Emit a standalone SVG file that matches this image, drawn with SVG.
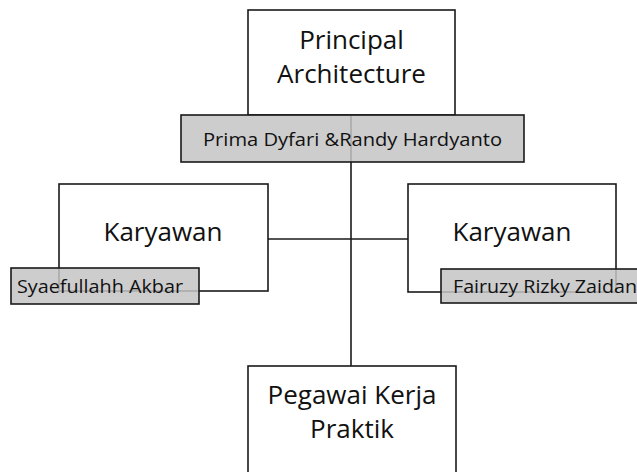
<svg xmlns="http://www.w3.org/2000/svg" width="637" height="472" viewBox="0 0 637 472">
<style>
.box{fill:#fff;stroke:#1a1a1a;stroke-width:1.6}
.lbl{fill:#c4c4c4;fill-opacity:0.85;stroke:#1a1a1a;stroke-width:1.6}
.conn{stroke:#1a1a1a;stroke-width:1.6;fill:none}
.t{font-family:"Open Sans","Noto Sans",sans-serif;fill:#111;text-anchor:middle}
.big{font-size:26px}
.small{font-size:19px}
.st{text-anchor:start}
</style>
<rect width="637" height="472" fill="#fff"/>
<g id="connectors">
<line class="conn" x1="351" y1="115" x2="351" y2="366"/>
<line class="conn" x1="268" y1="239" x2="408" y2="239"/>
</g>
<g id="principal">
<rect class="box" x="248" y="10" width="207" height="105"/>
<text class="t big" x="351.5" y="49">Principal</text>
<text class="t big" x="351.5" y="83">Architecture</text>
</g>
<g id="principal-name">
<rect class="lbl" x="181" y="115" width="343" height="47"/>
<text class="t small" x="352.5" y="146" textLength="299" lengthAdjust="spacingAndGlyphs">Prima Dyfari &amp;Randy Hardyanto</text>
</g>
<g id="karyawan-left">
<rect class="box" x="59" y="184" width="209" height="107"/>
<text class="t big" x="163" y="241">Karyawan</text>
</g>
<g id="karyawan-left-name">
<rect class="lbl" x="11" y="268" width="188" height="36"/>
<text class="t small st" x="17" y="293" textLength="166" lengthAdjust="spacingAndGlyphs">Syaefullahh Akbar</text>
</g>
<g id="karyawan-right">
<rect class="box" x="408" y="184" width="208" height="108"/>
<text class="t big" x="512" y="241">Karyawan</text>
</g>
<g id="karyawan-right-name">
<rect class="lbl" x="441" y="269" width="200" height="34"/>
<text class="t small st" x="453" y="293" textLength="184" lengthAdjust="spacingAndGlyphs">Fairuzy Rizky Zaidan</text>
</g>
<g id="pkp">
<rect class="box" x="248" y="366" width="208" height="120"/>
<text class="t big" x="352" y="404">Pegawai Kerja</text>
<text class="t big" x="352" y="438">Praktik</text>
</g>
</svg>
